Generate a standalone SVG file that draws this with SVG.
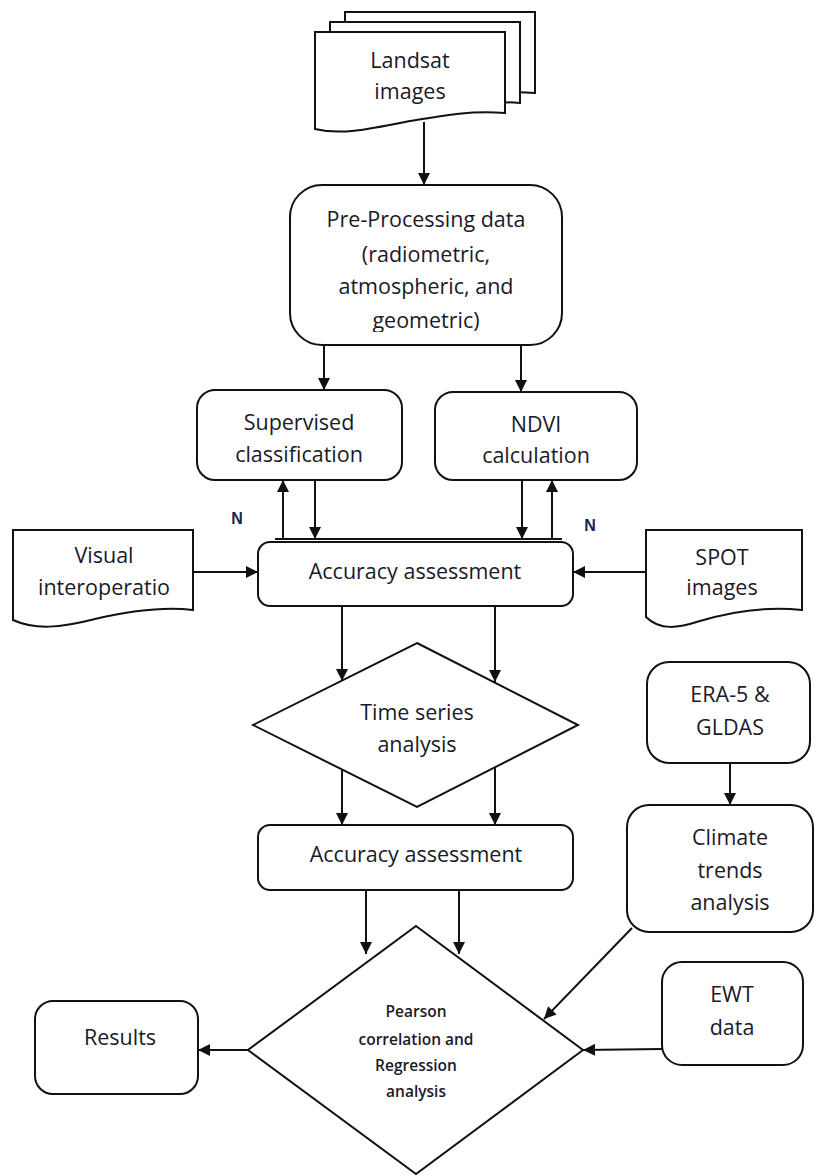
<svg xmlns="http://www.w3.org/2000/svg" width="820" height="1176" viewBox="0 0 820 1176">
<style>
.shape{fill:#fff;stroke:#111;stroke-width:2}
.ln{fill:none;stroke:#111;stroke-width:2}
.t{font-family:"Open Sans","Noto Sans",sans-serif;font-size:21.5px;fill:#1a1a28;text-anchor:middle}
.s{font-family:"Open Sans","Noto Sans",sans-serif;font-size:15.5px;font-weight:600;fill:#1a1a28;text-anchor:middle}
.n{font-family:"Liberation Sans",Arial,sans-serif;font-size:16px;font-weight:bold;fill:#1b2450;text-anchor:middle}
</style>
<defs>
<marker id="ah" viewBox="0 0 10 10" refX="10" refY="5" markerWidth="14" markerHeight="12" markerUnits="userSpaceOnUse" orient="auto">
<path d="M0,0 L10,5 L0,10 z" fill="#111"/>
</marker>
<clipPath id="pclip"><rect x="290" y="185" width="272" height="147"/></clipPath>
</defs>

<g id="landsat">
<path class="shape" d="M345,12 H535 V93 C500,90 470,96 440,104 L345,104 Z"/>
<path class="shape" d="M330,22 H520 V103 C485,100 455,106 425,114 L330,114 Z"/>
<path class="shape" d="M315,32 H505 V113 C470,110 440,116 405,122 C365,130 340,135 315,129 Z"/>
<text class="t" x="410" y="68">Landsat</text>
<text class="t" x="410" y="99">images</text>
</g>

<g id="preprocessing">
<rect class="shape" x="290" y="185" width="272" height="160" rx="32"/>
<text class="t" x="426" y="227">Pre-Processing data</text>
<text class="t" x="426" y="262">(radiometric,</text>
<text class="t" x="426" y="294">atmospheric, and</text>
<text class="t" x="426" y="328" clip-path="url(#pclip)">geometric)</text>
</g>

<g id="supervised">
<rect class="shape" x="197" y="390" width="205" height="90" rx="18"/>
<text class="t" x="299" y="430">Supervised</text>
<text class="t" x="299" y="462">classification</text>
</g>

<g id="ndvi">
<rect class="shape" x="435" y="392" width="202" height="88" rx="18"/>
<text class="t" x="536" y="432">NDVI</text>
<text class="t" x="536" y="463">calculation</text>
</g>

<g id="accuracy1">
<rect class="shape" x="258" y="542" width="315" height="64" rx="12"/>
<text class="t" x="415" y="579">Accuracy assessment</text>
</g>

<g id="visual">
<path class="shape" d="M13,530 H193 V610 C160,606 125,612 95,619 C60,628 35,630 13,620 Z"/>
<text class="t" x="104" y="563">Visual</text>
<text class="t" x="104" y="595">interoperatio</text>
</g>

<g id="spot">
<path class="shape" d="M646,530 H802 V610 C765,606 730,612 700,621 C678,628 660,631 646,617 Z"/>
<text class="t" x="722" y="565">SPOT</text>
<text class="t" x="722" y="595">images</text>
</g>

<g id="timeseries">
<path class="shape" d="M417,643 L578,725 L417,807 L253,725 Z"/>
<text class="t" x="417" y="720">Time series</text>
<text class="t" x="417" y="752">analysis</text>
</g>

<g id="accuracy2">
<rect class="shape" x="258" y="825" width="315" height="65" rx="12"/>
<text class="t" x="416" y="862">Accuracy assessment</text>
</g>

<g id="era5">
<rect class="shape" x="647" y="662" width="163" height="101" rx="22"/>
<text class="t" x="730" y="702">ERA-5 &amp;</text>
<text class="t" x="730" y="735">GLDAS</text>
</g>

<g id="climate">
<rect class="shape" x="627" y="805" width="186" height="127" rx="22"/>
<text class="t" x="730" y="845">Climate</text>
<text class="t" x="730" y="878">trends</text>
<text class="t" x="730" y="910">analysis</text>
</g>

<g id="ewt">
<rect class="shape" x="662" y="962" width="141" height="103" rx="20"/>
<text class="t" x="732" y="1002">EWT</text>
<text class="t" x="732" y="1035">data</text>
</g>

<g id="pearson">
<path class="shape" d="M416,926 L583,1050 L416,1174 L248,1050 Z"/>
<text class="s" x="416" y="1017">Pearson</text>
<text class="s" x="416" y="1045">correlation and</text>
<text class="s" x="416" y="1071">Regression</text>
<text class="s" x="416" y="1097">analysis</text>
</g>

<g id="results">
<rect class="shape" x="35" y="1001" width="163" height="93" rx="18"/>
<text class="t" x="120" y="1045">Results</text>
</g>

<g id="labels">
<text class="n" x="237" y="524">N</text>
<text class="n" x="590" y="531">N</text>
</g>

<g id="connectors">
<line class="ln" x1="424" y1="122" x2="424" y2="185" marker-end="url(#ah)"/>
<line class="ln" x1="324" y1="345" x2="324" y2="390" marker-end="url(#ah)"/>
<line class="ln" x1="521" y1="345" x2="521" y2="392" marker-end="url(#ah)"/>
<line class="ln" x1="275" y1="539" x2="562" y2="539"/>
<line class="ln" x1="283" y1="539" x2="283" y2="480" marker-end="url(#ah)"/>
<line class="ln" x1="315" y1="480" x2="315" y2="539" marker-end="url(#ah)"/>
<line class="ln" x1="522" y1="480" x2="522" y2="539" marker-end="url(#ah)"/>
<line class="ln" x1="552" y1="539" x2="552" y2="480" marker-end="url(#ah)"/>
<line class="ln" x1="193" y1="572" x2="258" y2="572" marker-end="url(#ah)"/>
<line class="ln" x1="646" y1="572" x2="573" y2="572" marker-end="url(#ah)"/>
<line class="ln" x1="342" y1="606" x2="342" y2="681" marker-end="url(#ah)"/>
<line class="ln" x1="495" y1="606" x2="495" y2="682" marker-end="url(#ah)"/>
<line class="ln" x1="342" y1="769" x2="342" y2="825" marker-end="url(#ah)"/>
<line class="ln" x1="495" y1="767" x2="495" y2="825" marker-end="url(#ah)"/>
<line class="ln" x1="366" y1="890" x2="366" y2="954" marker-end="url(#ah)"/>
<line class="ln" x1="459" y1="890" x2="459" y2="954" marker-end="url(#ah)"/>
<line class="ln" x1="730" y1="763" x2="730" y2="805" marker-end="url(#ah)"/>
<line class="ln" x1="632" y1="928" x2="544" y2="1019" marker-end="url(#ah)"/>
<line class="ln" x1="662" y1="1049" x2="583" y2="1050" marker-end="url(#ah)"/>
<line class="ln" x1="248" y1="1050" x2="198" y2="1050" marker-end="url(#ah)"/>
</g>
</svg>
